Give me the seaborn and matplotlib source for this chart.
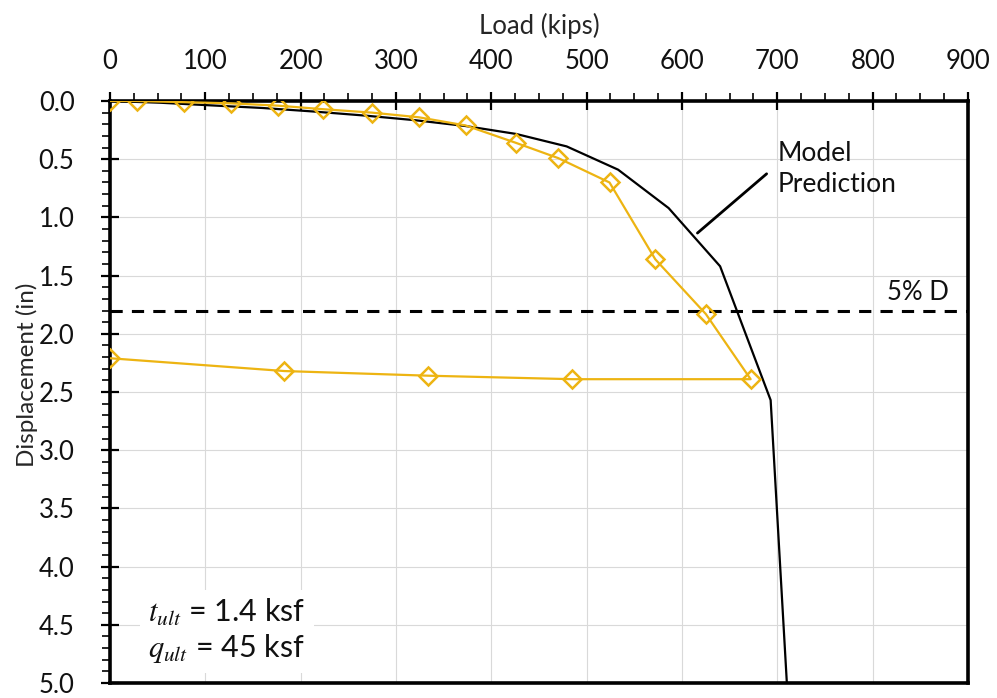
import numpy as np
import pandas as pd
import seaborn as sns
import matplotlib.pyplot as plt
from matplotlib.ticker import MultipleLocator

# measured load test (loading then unloading)
load_test = [0, 28, 78, 127, 176, 223, 275, 324, 373, 426, 470, 524, 572, 625, 672, 485, 334, 183, 0]
disp_test = [0, 0.0, 0.01, 0.02, 0.04, 0.07, 0.10, 0.14, 0.21, 0.36, 0.49, 0.70, 1.36, 1.83, 2.39,
             2.39, 2.36, 2.32, 2.21]

# model prediction
load_model = [0, 53, 107, 160, 213, 267, 320, 373, 426, 479, 533, 586, 640, 693, 710]
disp_model = [0, 0.015, 0.038, 0.06, 0.09, 0.125, 0.165, 0.215, 0.283, 0.39, 0.59, 0.92, 1.42, 2.57, 5.0]

limit_disp = 1.8  # 5% of diameter

gold = '#EDB412'

sns.set_style('white')
plt.rcParams['font.family'] = ['Lato', 'DejaVu Sans']
plt.rcParams['mathtext.fontset'] = 'stix'
plt.rcParams['text.color'] = '#111111'

df_test = pd.DataFrame({'Load': load_test, 'Disp': disp_test})
df_model = pd.DataFrame({'Load': load_model, 'Disp': disp_model})

fig = plt.figure(figsize=(9.97, 6.98), dpi=100)
ax = fig.add_axes([0.1103, 0.0215, 0.8606, 0.8338])

ax.grid(True, which='major', color='#D9D9D9', linewidth=0.8)
ax.set_axisbelow(True)

sns.lineplot(data=df_model, x='Load', y='Disp', sort=False, estimator=None,
             color='black', linewidth=1.6, ax=ax, zorder=3)
sns.lineplot(data=df_test, x='Load', y='Disp', sort=False, estimator=None,
             color=gold, linewidth=1.6, marker='D', markersize=9,
             markerfacecolor='none', markeredgecolor=gold, markeredgewidth=1.8,
             ax=ax, zorder=4)
ax.axhline(limit_disp, color='black', linewidth=2.2, dashes=(4, 3), zorder=3)

ax.set_xlim(0, 900)
ax.set_ylim(5, 0)
ax.xaxis.tick_top()
ax.xaxis.set_label_position('top')
ax.xaxis.set_major_locator(MultipleLocator(100))
ax.xaxis.set_minor_locator(MultipleLocator(25))
ax.yaxis.set_major_locator(MultipleLocator(0.5))
ax.yaxis.set_minor_locator(MultipleLocator(0.1))
ax.yaxis.set_major_formatter(lambda v, p: f'{v:.1f}')

ax.tick_params(which='major', direction='inout', length=13, width=1.6, labelsize=18.5,
               colors='black', labelcolor='#111111',
               top=True, bottom=False, left=True, right=False)
ax.tick_params(axis='x', which='major', pad=13)
ax.tick_params(axis='y', which='major', pad=19)
ax.tick_params(which='minor', direction='out', length=6, width=1.4,
               top=True, bottom=False, left=True, right=False)

for s in ax.spines.values():
    s.set_visible(True)
    s.set_color('black')
    s.set_linewidth(2.6)

ax.set_xlabel('Load (kips)', fontsize=18.5, labelpad=11)
ax.set_ylabel('Displacement (in)', fontsize=17.5)
ax.yaxis.set_label_coords(-0.084, 0.53)

ax.annotate('', xy=(614, 1.15), xytext=(691, 0.61),
            arrowprops=dict(arrowstyle='-', color='black', lw=2))
ax.text(700, 0.58, 'Model\nPrediction', fontsize=19, va='center', ha='left', linespacing=1.3)
ax.text(815, 1.71, '5% D', fontsize=18.5, va='baseline', ha='left')
ax.text(40, 4.55, '$t_{ult}$ = 1.4 ksf\n$q_{ult}$ = 45 ksf', fontsize=22, va='center', ha='left',
        linespacing=1.15, bbox=dict(facecolor='white', edgecolor='none', pad=6))

fig.savefig('out.png', dpi=100)
